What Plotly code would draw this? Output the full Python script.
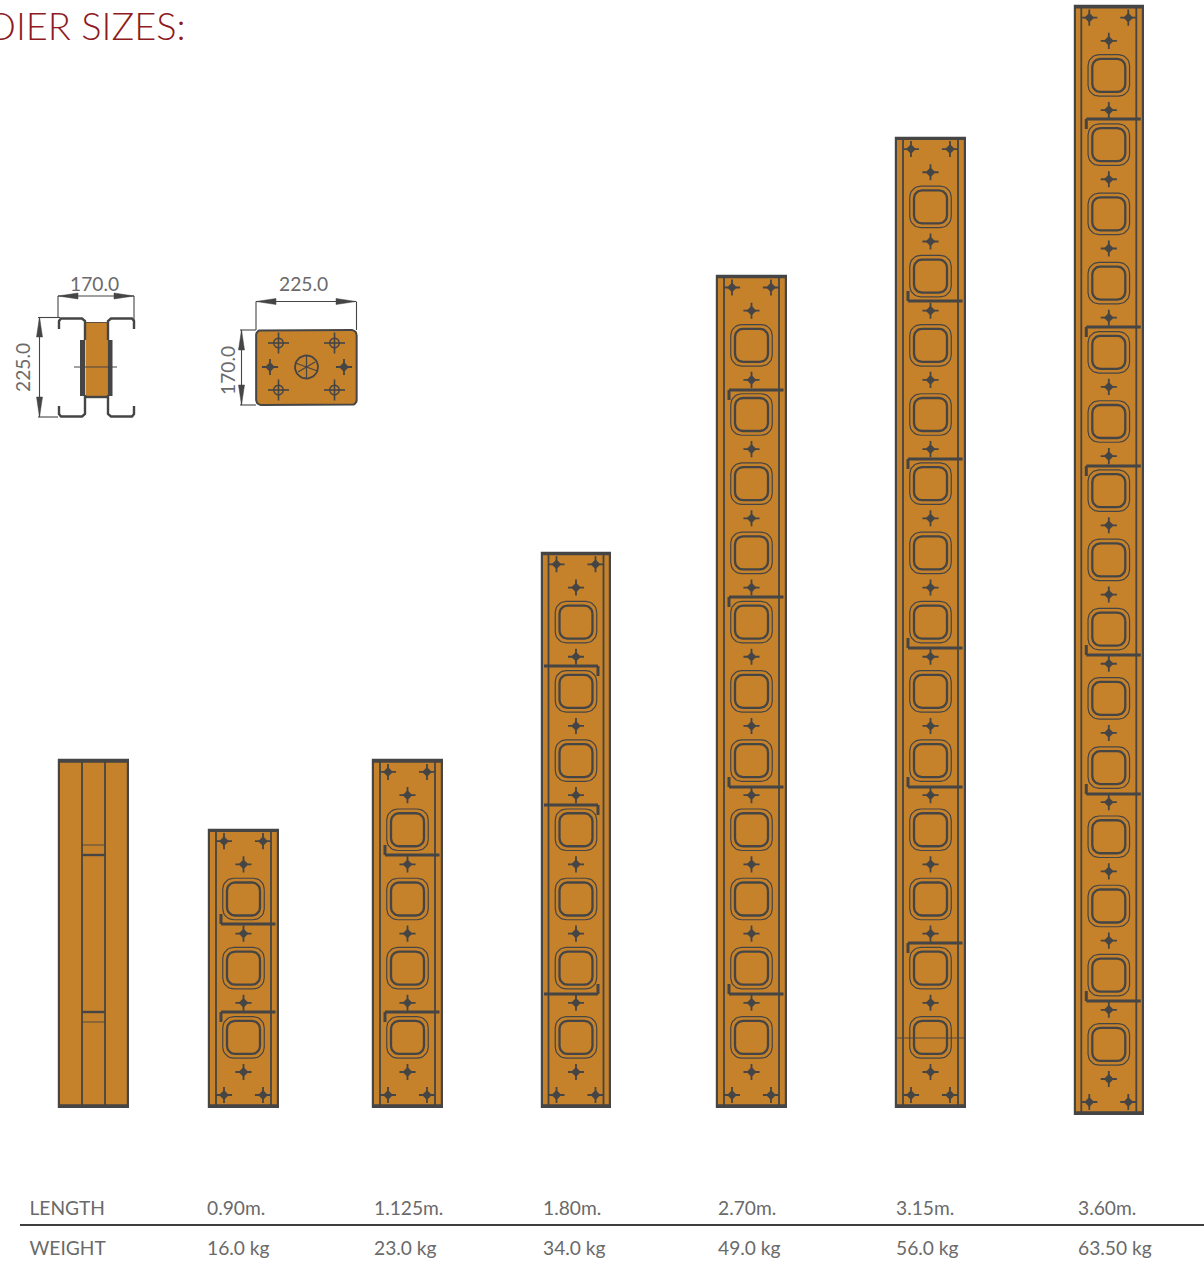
import numpy as np
import plotly.graph_objects as go

# ---- values ----
lengths_m = [0.90, 1.125, 1.80, 2.70, 3.15, 3.60]
weights_kg = [16.0, 23.0, 34.0, 49.0, 56.0, 63.50]
length_labels = ["0.90m.", "1.125m.", "1.80m.", "2.70m.", "3.15m.", "3.60m."]
weight_labels = ["16.0 kg", "23.0 kg", "34.0 kg", "49.0 kg", "56.0 kg", "63.50 kg"]
side_view_length_m = 1.125
module_m = 0.225

# ---- layout of the drawing ----
W, H = 1204, 1263
PX_PER_M = 307.6
BASE_PX = 1106.5
centers = [243.5, 407.5, 576, 751.5, 930.5, 1108.8]
drops_px = [0, 0, 0, 0, 0, 7]
side_center = 93.5
label_x = [207, 374, 543, 718, 896, 1078]
ORANGE = "#C6812B"
DARK = "#454545"
GREY = "#6A6A6A"
RED = "#8E1B22"
FONT = "Lato"

# brackets: y px, vertical direction (+1 down / -1 up), vertical side (-1 left / +1 right)
brackets = [
    [(924, -1, -1), (1012, 1, -1)],
    [(855, -1, -1), (1012, 1, -1)],
    [(666, 1, 1), (805, 1, 1), (994, -1, 1)],
    [(390, 1, -1), (597, 1, -1), (787, -1, -1), (994, -1, -1)],
    [(301, -1, -1), (459, 1, -1), (648, -1, -1), (787, -1, -1), (943, 1, -1)],
    [(119, 1, -1), (327, 1, -1), (466, 1, -1), (655, -1, -1), (794, -1, -1), (1001, -1, -1)],
]


def to_m(px):
    return (BASE_PX - np.asarray(px, float)) / PX_PER_M


def rrect(cx, cy, w, h, r):
    """Rounded rectangle outline around (cx, cy), in px."""
    t = np.linspace(0, np.pi / 2, 9)
    xs, ys = [], []
    for sx, sy, a in [(1, -1, 0), (-1, -1, 1), (-1, 1, 2), (1, 1, 3)]:
        tt = t + a * np.pi / 2
        xs += list(cx + sx * (w / 2 - r) + r * np.cos(tt))
        ys += list(cy + sy * (h / 2 - r) - r * np.sin(tt))
    return xs + xs[:1], ys + ys[:1]


def star_traces(x, y, axes=("x", "y")):
    """Four-point fixing mark: a small diamond on a thin cross."""
    common = dict(x=x, y=y, mode="markers", hoverinfo="skip", xaxis=axes[0], yaxis=axes[1])
    return [
        go.Scatter(marker=dict(symbol="cross-thin", size=11.5, color=DARK,
                               line=dict(color=DARK, width=1.8)), **common),
        go.Scatter(marker=dict(symbol="diamond", size=7.5, color=DARK, line=dict(width=0)), **common),
    ]


fig = go.Figure()

# piers: the bars themselves
fig.add_trace(go.Bar(
    x=[side_center] + centers,
    y=[side_view_length_m] + lengths_m,
    base=[0] + [-d / PX_PER_M for d in drops_px],
    width=68.5,
    marker=dict(color=ORANGE, line=dict(color=DARK, width=2.2)),
    hoverinfo="skip",
))

rail_x, rail_y, band_x, band_y = [], [], [], []
oh_x, oh_y, ih_x, ih_y = [], [], [], []
star_x, star_y = [], []
for L, c, d in zip(lengths_m, centers, drops_px):
    bottom = -d / PX_PER_M
    top = bottom + L
    for s in (-27.5, 27.5):
        rail_x += [c + s, c + s, None]
        rail_y += [bottom, top, None]
    band_x += [c - 34.5, c + 34.5, None, c - 34.5, c + 34.5, None]
    band_y += [bottom + 0.003, bottom + 0.003, None, top - 0.003, top - 0.003, None]
    n = int(round(L / module_m))
    first = bottom + (34.5 / PX_PER_M)
    for k in range(n):
        star_x.append(c)
        star_y.append(first + k * module_m)
    for k in range(n - 1):
        yc = BASE_PX + d - 34.5 - (k + 0.5) * module_m * PX_PER_M
        ox, oy = rrect(c, yc, 41.5, 41.5, 11)
        oh_x += ox + [None]
        oh_y += list(to_m(oy)) + [None]
        ix, iy = rrect(c, yc, 33, 33, 8)
        ih_x += ix + [None]
        ih_y += list(to_m(iy)) + [None]
    for sx in (-19.5, 19.5):
        for yy in (bottom + 11.5 / PX_PER_M, top - 11.5 / PX_PER_M):
            star_x.append(c + sx)
            star_y.append(yy)

for s in (-11.5, 11.5):
    rail_x += [side_center + s, side_center + s, None]
    rail_y += [0, side_view_length_m, None]
band_x += [side_center - 34.5, side_center + 34.5, None, side_center - 34.5, side_center + 34.5, None]
band_y += [0.003, 0.003, None, side_view_length_m - 0.003, side_view_length_m - 0.003, None]

line = lambda x, y, w, color=DARK: go.Scatter(
    x=x, y=y, mode="lines", line=dict(color=color, width=w), hoverinfo="skip", cliponaxis=False)

fig.add_trace(line(rail_x, rail_y, 1.8))
fig.add_trace(line(band_x, band_y, 2.8))
fig.add_trace(line(oh_x, oh_y, 1.2))
fig.add_trace(line(ih_x, ih_y, 2.3))
fig.add_traces(star_traces(star_x, star_y))


# ---- overlay in picture units: brackets, details, sections, table ----
def px_line(x, y, w, color=DARK):
    t = line(x, y, w, color)
    t.xaxis, t.yaxis = "x2", "y2"
    return t


bx, by = [], []
for c, row, d in zip(centers, brackets, drops_px):
    for y, vdir, vside in row:
        x0, x1 = (c - 22.5, c + 32) if vside < 0 else (c - 32, c + 22)
        vx = x0 if vside < 0 else x1
        bx += [x0, x1, None, vx, vx, None]
        by += [y, y, None, y, y + vdir * 10, None]
fig.add_trace(px_line(bx, by, 3))
fig.add_trace(px_line([895, 966], [1038, 1038], 0.9))

# side view cross lines
fig.add_trace(px_line([82, 105, None, 82, 105], [855, 855, None, 1012, 1012], 2.4))
fig.add_trace(px_line([82, 105, None, 82, 105], [845, 845, None, 1022, 1022], 0.9))

# left section
sec_x = [59, 59, 61, 82, 85, 85, None, 85, 85, 82, 61, 59, 59, None,
         134, 134, 132, 111, 108, 108, None, 108, 108, 111, 132, 134, 134]
sec_y = [329, 321, 318.5, 318.5, 321, 340, None, 395, 414, 416.5, 416.5, 414, 406, None,
         329, 321, 318.5, 318.5, 321, 340, None, 395, 414, 416.5, 416.5, 414, 406]
ox, oy = [85.5, 107.5, 107.5, 85.5, 85.5], [322, 322, 397, 397, 322]
web = go.Scatter(x=ox, y=oy, mode="lines", fill="toself", fillcolor=ORANGE,
                 line=dict(color=ORANGE, width=0), hoverinfo="skip", xaxis="x2", yaxis="y2")
fig.add_trace(web)
fig.add_trace(px_line(sec_x, sec_y, 2.4))
fig.add_trace(px_line([86, 107], [322.5, 322.5], 0.8))
fig.add_trace(px_line([86, 107], [397, 397], 2.4))
fig.add_trace(px_line([82.5, 82.5, None, 110, 110], [340, 396, None, 340, 396], 5))
fig.add_trace(px_line([74, 117], [367, 367], 1))

# right plate
px_, py_ = rrect(306.4, 367.5, 100.5, 75, 5)
fig.add_trace(go.Scatter(x=px_, y=py_, mode="lines", fill="toself", fillcolor=ORANGE,
                         line=dict(color=DARK, width=2), hoverinfo="skip", xaxis="x2", yaxis="y2"))
hx = [278.5, 334.5, 278.5, 334.5]
hy = [343, 343, 390, 390]
cross_x, cross_y, circ_x, circ_y = [], [], [], []
th = np.linspace(0, 2 * np.pi, 37)
for a, b in zip(hx, hy):
    cross_x += [a - 10.5, a + 10.5, None, a, a, None]
    cross_y += [b, b, None, b - 10.5, b + 10.5, None]
    circ_x += list(a + 4.8 * np.cos(th)) + [None]
    circ_y += list(b + 4.8 * np.sin(th)) + [None]
fig.add_trace(px_line(cross_x, cross_y, 1.6))
fig.add_trace(px_line(circ_x, circ_y, 1.4))
fig.add_traces(star_traces([270, 344], [367, 367], ("x2", "y2")))
fig.add_trace(px_line(list(306.5 + 11.5 * np.cos(th)), list(367 + 11.5 * np.sin(th)), 1.8))
fig.add_trace(px_line([295.5, 317.5, None, 306.5, 306.5, None, 298, 315],
                      [363, 371, None, 356, 378, None, 372, 362], 1.2))

# dimension lines
dim_x = [58, 134, None, 58, 58, None, 134, 134, None,
         256, 356, None, 256, 256, None, 356.5, 356.5, None,
         39.5, 39.5, None, 38, 60, None, 38, 58, None,
         241.5, 241.5, None, 240, 256, None, 240, 256]
dim_y = [296, 296, None, 296, 318, None, 296, 329, None,
         301.5, 301.5, None, 301.5, 330, None, 301.5, 330, None,
         317, 417, None, 317.5, 317.5, None, 417, 417, None,
         330, 405, None, 330, 330, None, 405, 405]
fig.add_trace(px_line(dim_x, dim_y, 1.1))
arrow_x, arrow_y = [], []
for tip, sgn, yy in [(58, 1, 296), (134, -1, 296), (256, 1, 301.5), (356, -1, 301.5)]:
    arrow_x += [tip, tip + sgn * 20, tip + sgn * 20, tip, None]
    arrow_y += [yy, yy - 3, yy + 3, yy, None]
for tip, sgn, xx in [(317, 1, 39.5), (417, -1, 39.5), (330, 1, 241.5), (405, -1, 241.5)]:
    arrow_y += [tip, tip + sgn * 20, tip + sgn * 20, tip, None]
    arrow_x += [xx, xx - 3, xx + 3, xx, None]
fig.add_trace(go.Scatter(x=arrow_x, y=arrow_y, mode="lines", fill="toself", fillcolor=DARK,
                         line=dict(color=DARK, width=0.5), hoverinfo="skip", xaxis="x2", yaxis="y2"))

# table rule
fig.add_trace(px_line([20, 1204], [1225, 1225], 1.8, "#3F3F3F"))

# table text
for txts, y0, head in [(length_labels, 1210.5, "LENGTH"), (weight_labels, 1250.5, "WEIGHT")]:
    fig.add_trace(go.Scatter(
        x=[29.5] + label_x, y=[y0] * 7, text=[head] + txts, mode="text",
        textposition="middle right", textfont=dict(family=FONT, size=19.2, color=GREY),
        hoverinfo="skip", xaxis="x2", yaxis="y2", cliponaxis=False))

anns = [
    dict(x=188, y=24.5, text="DIER SIZES:", xanchor="right", yanchor="middle",
         font=dict(family=FONT, size=38, color=RED, weight=300)),
    dict(x=94, y=283, text="170.0", xanchor="center", yanchor="middle",
         font=dict(family=FONT, size=19.2, color=GREY)),
    dict(x=303.5, y=283, text="225.0", xanchor="center", yanchor="middle",
         font=dict(family=FONT, size=19.2, color=GREY)),
    dict(x=22, y=368, text="225.0", textangle=-90, xanchor="center", yanchor="middle",
         font=dict(family=FONT, size=19.2, color=GREY)),
    dict(x=227, y=371, text="170.0", textangle=-90, xanchor="center", yanchor="middle",
         font=dict(family=FONT, size=19.2, color=GREY)),
]
for a in anns:
    a.update(xref="x2", yref="y2", showarrow=False)

fig.update_layout(
    width=W, height=H, margin=dict(l=0, r=0, t=0, b=0),
    paper_bgcolor="white", plot_bgcolor="white", showlegend=False,
    annotations=anns, bargap=0,
    xaxis=dict(range=[0, W], visible=False, fixedrange=True),
    yaxis=dict(range=[float(to_m(H)), float(to_m(0))], visible=False, fixedrange=True),
    xaxis2=dict(range=[0, W], visible=False, overlaying="x", fixedrange=True),
    yaxis2=dict(range=[H, 0], visible=False, overlaying="y", fixedrange=True),
)

fig.write_html("out.html", post_script="document.body.style.margin='0';",
               config=dict(displayModeBar=False))
